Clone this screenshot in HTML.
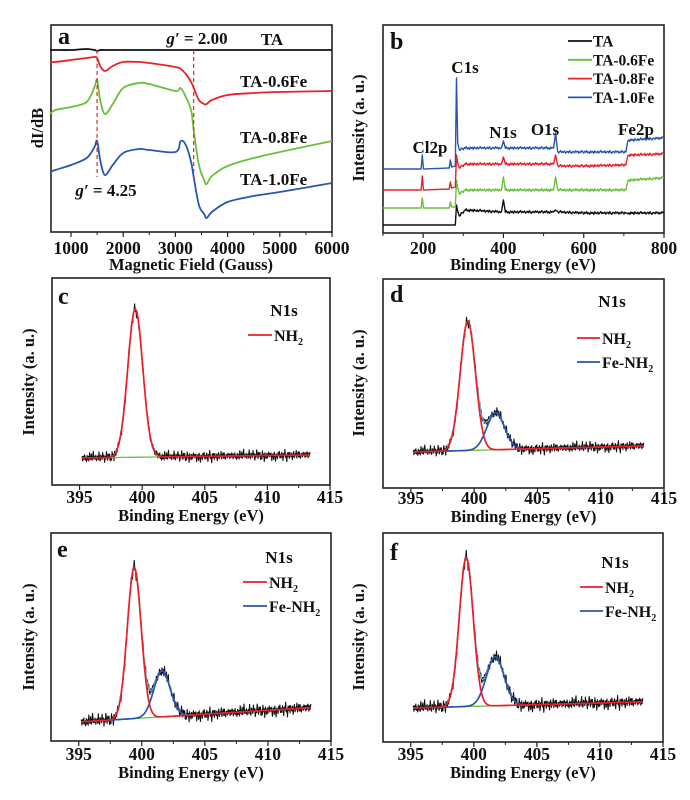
<!DOCTYPE html>
<html><head><meta charset="utf-8">
<style>
html,body{margin:0;padding:0;background:#fff;}
svg{display:block;}
text{font-family:"Liberation Serif",serif;font-weight:bold;fill:#111;}
</style></head>
<body>
<svg id="fig" width="690" height="800" viewBox="0 0 690 800" xmlns="http://www.w3.org/2000/svg"></svg>
<script>
// ---------- Panel a (EPR) data ----------
const aField = [600,700,1000,1300,1450,1500,1560,1650,1800,2000,2300,2500,3000,3100,3200,3300,3350,3450,3550,3600,3700,4000,4500,5000,6000];
const aTA   = [182,182,182,183,182,181,182,182,182,182,182,182,182,182,182,182,182,182,182,182,182,182,182,182,182];
const aFe06 = [170,170,172,174,175,174,166,161,166,170,170,169,165,163,158,150,144,132,128,128,132,137,139,140,141];
const aFe08 = [118,122,125,130,145,152,132,118,128,144,149,148,141,144,135,122,102,67,52,48,56,66,74,80,91];
const aFe10 = [60,62,67,74,85,91,72,57,67,79,83,82,80,91,87,70,55,27,18,14,20,30,36,40,49];
const aMarkers = [1500,3350];
// ---------- Panel b (XPS survey) data ----------
const bEnergy = [100,195,198,201,265,268,271,280,283,286,290,305,395,400,405,525,530,535,600,705,710,720,800];
const bTA   = [8,8,8,8,8,8,8,8,28,22,17,23,21,33,21,21,23,21,20,20,20,20,20];
const bFe06 = [25,25,35,25,25,31,26,26,53,45,39,43,43,56,43,43,56,43,43,43,53,53,55];
const bFe08 = [43,43,57,43,44,51,45,46,78,70,65,69,69,76,69,69,78,67,67,68,78,78,79];
const bFe10 = [64,64,78,64,65,73,66,67,155,90,83,85,85,92,85,85,100,81,81,81,93,93,95];
// ---------- Panels c-f (N1s) fit parameters ----------
const nPanels   = ['c','d','e','f'];
const nBaseL    = [27,36,19,34];
const nBaseR    = [30,42,33,40];
const nNH2H     = [148,129,151,149];
const nNH2C     = [399.45,399.5,399.4,399.4];
const nNH2S     = [0.6,0.6,0.55,0.55];
const nFeH      = [0,37,46,49];
const nFeC      = [401.7,401.7,401.6,401.7];
const nFeS      = [0.7,0.7,0.65,0.7];
const nNoiseAmp = [5,5,6,6];
const noise = [0.3,-0.8,0.5,-0.2,0.9,-0.6,0.1,-1,0.7,-0.3,0.4,-0.9,0.8,-0.1,-0.5,0.6,-0.7,0.2,1,-0.4,0.3,-0.2,0.7,-0.8,0.1,0.5,-0.6,0.9,-0.3,-0.9,0.4,0.2,-0.5,0.8,-0.1,0.6,-0.7,0.3,-0.4,0.9];

const NS='http://www.w3.org/2000/svg';
const svg=document.getElementById('fig');
function el(tag,attrs,parent){const e=document.createElementNS(NS,tag);for(const k in attrs)e.setAttribute(k,attrs[k]);(parent||svg).appendChild(e);return e;}
function txt(s,x,y,size,parent,anchor,weight){const t=el('text',{x:x,y:y,'font-size':size,'text-anchor':anchor||'start'},parent);if(weight)t.setAttribute('font-weight',weight);t.textContent=s;return t;}
function scale(d0,d1,r0,r1){return v=>r0+(v-d0)/(d1-d0)*(r1-r0);}
function path(xs,ys,sx,sy,color,w,parent){let d='';for(let i=0;i<xs.length;i++)d+=(i?'L':'M')+sx(xs[i]).toFixed(1)+','+sy(ys[i]).toFixed(1);return el('path',{d:d,fill:'none',stroke:color,'stroke-width':w||1.3,'stroke-linejoin':'round'},parent);}
function smooth(xs,ys,sx,sy,color,w,parent){
  const P=xs.map((x,i)=>[sx(x),sy(ys[i])]);let d='M'+P[0][0].toFixed(1)+','+P[0][1].toFixed(1);
  for(let i=0;i<P.length-1;i++){const p0=P[Math.max(0,i-1)],p1=P[i],p2=P[i+1],p3=P[Math.min(P.length-1,i+2)];
    const c1=[p1[0]+(p2[0]-p0[0])/6,p1[1]+(p2[1]-p0[1])/6],c2=[p2[0]-(p3[0]-p1[0])/6,p2[1]-(p3[1]-p1[1])/6];
    d+='C'+c1[0].toFixed(1)+','+c1[1].toFixed(1)+' '+c2[0].toFixed(1)+','+c2[1].toFixed(1)+' '+p2[0].toFixed(1)+','+p2[1].toFixed(1);}
  return el('path',{d:d,fill:'none',stroke:color,'stroke-width':w,'stroke-linejoin':'round'},parent);}
function axes(g,box,sx,major,minor,labelY){
  el('rect',{x:box.x0,y:box.y0,width:box.x1-box.x0,height:box.y1-box.y0,fill:'none',stroke:'#222','stroke-width':1.6},g);
  minor.forEach(v=>el('line',{x1:sx(v),x2:sx(v),y1:box.y1,y2:box.y1+3,stroke:'#222','stroke-width':1},g));
  major.forEach(v=>{el('line',{x1:sx(v),x2:sx(v),y1:box.y1,y2:box.y1+5,stroke:'#222','stroke-width':1.2},g);txt(String(v),sx(v),labelY,17.5,g,'middle');});
}
function ytitle(g,s,x,y){const t=txt(s,x,y,16.5,g,'middle');t.setAttribute('transform','rotate(-90 '+x+' '+y+')');return t;}

// ---------- Panel a ----------
{
 const g=el('g',{});  
 const box={x0:51,x1:332,y0:25,y1:232};
 const sx=scale(617,6000,51,332), sy=scale(0,207,232,25);
 axes(g,box,sx,[1000,2000,3000,4000,5000,6000],[1500,2500,3500,4500,5500],254);
 txt('Magnetic Field (Gauss)',191,270,16.5,g,'middle');
 ytitle(g,'dI/dB',43,128);
 const c=[['#111',aTA,'ta'],['#e8202a',aFe06,'ta-0.6fe'],['#6cbf3a',aFe08,'ta-0.8fe'],['#2a56b0',aFe10,'ta-1.0fe']];
 c.forEach(s=>{const p=smooth(aField,s[1],sx,sy,s[0],1.8,g);});
 aMarkers.forEach(m=>{const l=el('line',{x1:sx(m),x2:sx(m),y1:50,y2:177,stroke:'#e8202a','stroke-width':1.2,'stroke-dasharray':'4,3'},g);});
 txt('a',58,44,24,g,'start','normal');
 const g1=txt('',197,44,17,g,'middle');g1.innerHTML='<tspan font-style="italic">g′</tspan> = 2.00';
 txt('TA',272,45,17,g,'middle');
 txt('TA-0.6Fe',240,87,17,g);
 txt('TA-0.8Fe',240,143,17,g);
 txt('TA-1.0Fe',240,185,17,g);
 const g2=txt('',106,196,17,g,'middle');g2.innerHTML='<tspan font-style="italic">g′</tspan> = 4.25';
}
// ---------- Panel b ----------
{
 const g=el('g',{});  
 const box={x0:383,x1:664,y0:25,y1:233};
 const sx=scale(100,800,383,664), sy=scale(0,208,233,25);
 axes(g,box,sx,[200,400,600,800],[100,300,500,700],254);
 txt('Binding Energy (eV)',523,270,16.5,g,'middle');
 ytitle(g,'Intensity (a. u.)',364,128);
 const c=[['#111',bTA,'ta'],['#6cbf3a',bFe06,'ta-0.6fe'],['#e8202a',bFe08,'ta-0.8fe'],['#2a56b0',bFe10,'ta-1.0fe']];
 c.forEach(s=>{
   const xs=[],ys=[];
   for(let i=0;i<bEnergy.length-1;i++){
     const e0=bEnergy[i],e1=bEnergy[i+1];const n=Math.max(1,Math.round((e1-e0)/2.5));
     for(let k=0;k<n;k++){const e=e0+(e1-e0)*k/n;xs.push(e);ys.push(s[1][i]+(s[1][i+1]-s[1][i])*k/n+(n>2&&e>290?noise[(xs.length)%noise.length]*1.4:0));}
   }
   xs.push(800);ys.push(s[1][s[1].length-1]);
   const p=path(xs,ys,sx,sy,s[0],1.4,g);
 });
 txt('b',390,49,24,g,'start','normal');
 const lg=el('g',{},g);
 [['#111','TA'],['#6cbf3a','TA-0.6Fe'],['#e8202a','TA-0.8Fe'],['#2a56b0','TA-1.0Fe']].forEach((s,i)=>{
   const y=41+i*18.8;
   el('line',{x1:568,x2:592,y1:y,y2:y,stroke:s[0],'stroke-width':1.8},lg);
   txt(s[1],593,y+5.5,15.5,lg);
 });
 txt('C1s',465,73,17,g,'middle');
 txt('Cl2p',430,153,17,g,'middle');
 txt('N1s',503,138,17,g,'middle');
 txt('O1s',545,135,17,g,'middle');
 txt('Fe2p',636,135,17,g,'middle');
}
// ---------- Panels c-f ----------
const nBoxes=[{x0:52,x1:330,y0:278,y1:485,lx:58,ly:304,ty:503,tt:521,yx:34,yy:382,leg:[248,272,310,335]},
              {x0:383,x1:664,y0:279,y1:488,lx:390,ly:302,ty:504,tt:522,yx:364,yy:383,leg:[577,600,301,338]},
              {x0:51,x1:331,y0:533,y1:741,lx:57,ly:557,ty:760,tt:778,yx:34,yy:637,leg:[243,267,557,582]},
              {x0:383,x1:663,y0:533,y1:742,lx:390,ly:560,ty:760,tt:778,yx:364,yy:637,leg:[580,603,562,587]}];
function gauss(x,c,s,h){return h*Math.exp(-0.5*((x-c)/s)*((x-c)/s));}
nPanels.forEach((name,i)=>{
 const b=nBoxes[i];
 const g=el('g',{});  
 const sx=scale(392.8,415,b.x0,b.x1), sy=scale(0,b.y1-b.y0,b.y1,b.y0);
 axes(g,b,sx,[395,400,405,410,415],[397.5,402.5,407.5,412.5],b.ty);
 txt('Binding Energy (eV)',(b.x0+b.x1)/2,b.tt,16.5,g,'middle');
 ytitle(g,'Intensity (a. u.)',b.yx,b.yy);
 const xs=[],bg=[],red=[],blue=[],env=[],raw=[];
 for(let k=0;k<=364;k++){
   const x=395.2+k*0.05;xs.push(x);
   const base=nBaseL[i]+(nBaseR[i]-nBaseL[i])*(x-395)/18;
   const r=gauss(x,nNH2C[i],nNH2S[i],nNH2H[i]), f=gauss(x,nFeC[i],nFeS[i],nFeH[i]);
   bg.push(base);red.push(base+r);blue.push(base+f);env.push(base+r+f);
   raw.push(base+r+f+noise[k%noise.length]*nNoiseAmp[i]*(k%3===0?1.3:0.7));
 }
 let p=path(xs,raw,sx,sy,'#111',1.1,g);
 p=path(xs,bg,sx,sy,'#6cbf3a',1.3,g);
 if(nFeH[i]>0){
   p=path(xs,env,sx,sy,'#5fb8c8',1.3,g);
   p=path(xs,blue,sx,sy,'#2a56b0',1.7,g);
 }
 p=path(xs,red,sx,sy,'#e8202a',1.7,g);
 txt(name,b.lx,b.ly,24,g,'start','normal');
 const L=b.leg;
 txt('N1s',L[1]+12,L[2]+6,17,g,'middle');
 const lg=el('g',{},g);
 el('line',{x1:L[0],x2:L[1],y1:L[3],y2:L[3],stroke:'#e8202a','stroke-width':1.8},lg);
 const t1=txt('',L[1]+2,L[3]+6,16,lg);t1.innerHTML='NH<tspan font-size="10" dy="4">2</tspan>';
 if(nFeH[i]>0){
   el('line',{x1:L[0],x2:L[1],y1:L[3]+24,y2:L[3]+24,stroke:'#2a56b0','stroke-width':1.8},lg);
   const t2=txt('',L[1]+2,L[3]+30,16,lg);t2.innerHTML='Fe-NH<tspan font-size="10" dy="4">2</tspan>';
 }
});
</script>
</body></html>
